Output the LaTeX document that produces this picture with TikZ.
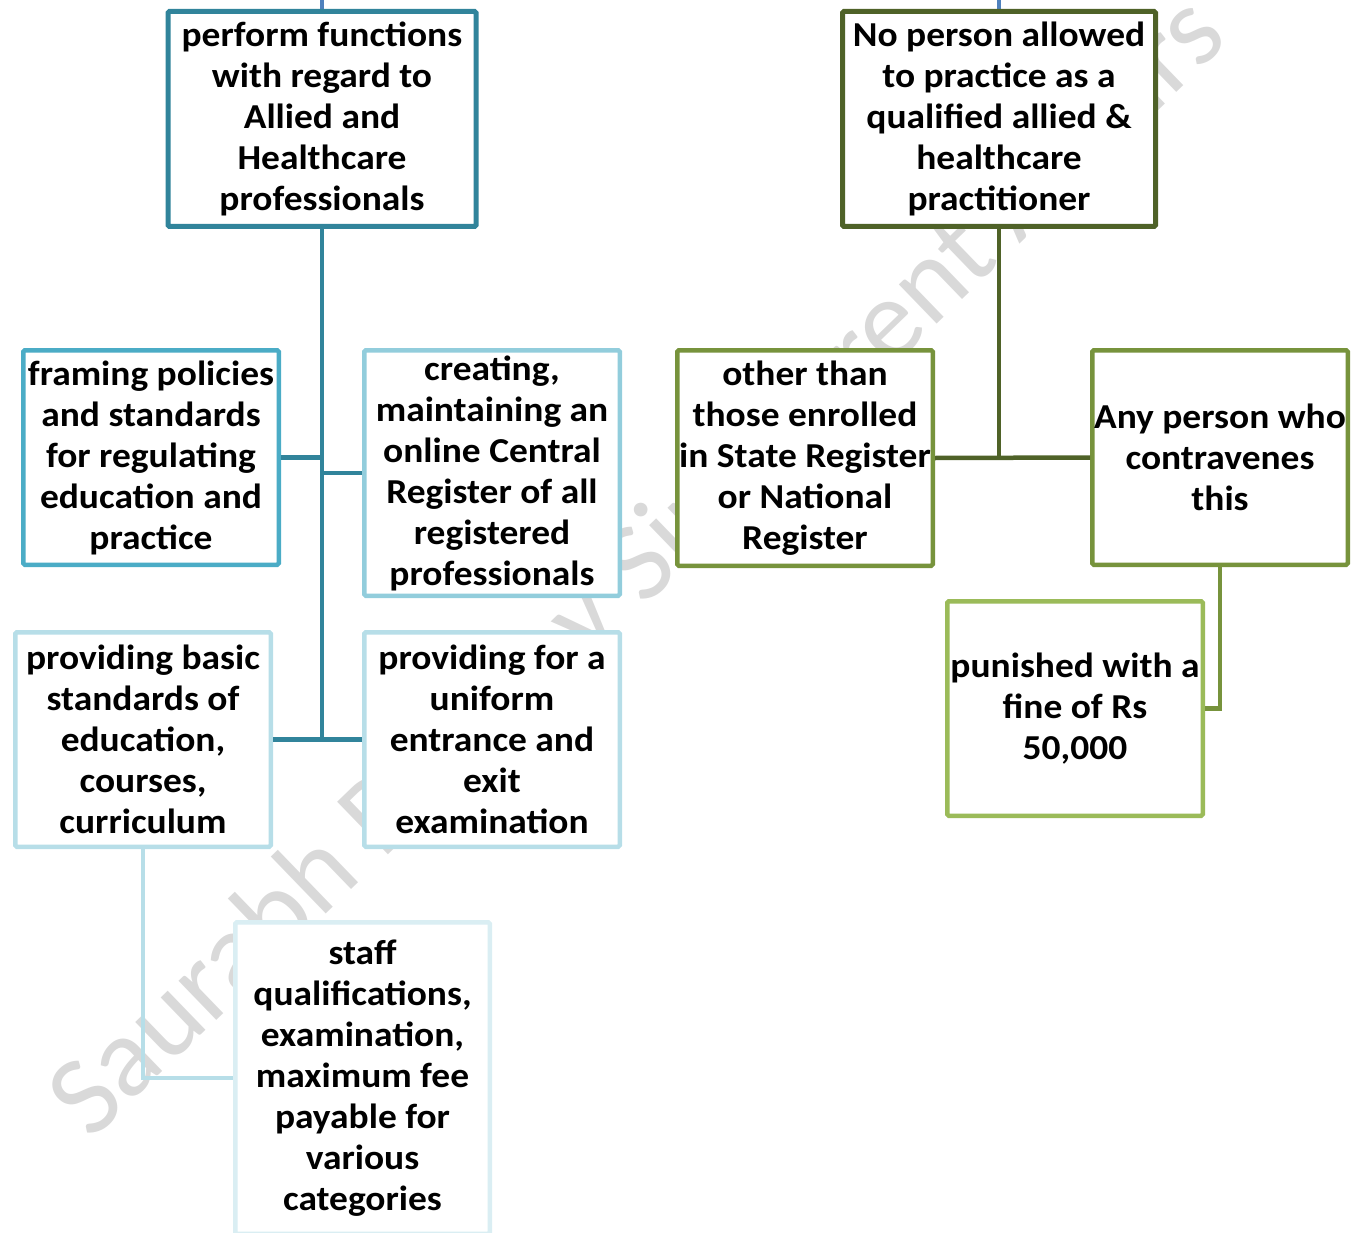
\documentclass[tikz,border=0pt]{standalone}
\usepackage{fontspec}
\setmainfont{Carlito}
\newfontfamily\boxfont{Carlito}[FakeStretch=1.07]
\definecolor{tealdark}{HTML}{31849B}
\definecolor{tealmid}{HTML}{4BACC6}
\definecolor{teallight}{HTML}{92CDDC}
\definecolor{teallighter}{HTML}{B7DEE8}
\definecolor{teallightest}{HTML}{DAEEF3}
\definecolor{olivedark}{HTML}{4F6228}
\definecolor{olivemid}{HTML}{77933C}
\definecolor{olivelight}{HTML}{9BBB59}
\definecolor{stubblue}{HTML}{4F81BD}
\definecolor{wmgray}{HTML}{D9D9D9}
\begin{document}
\begin{tikzpicture}[x=1pt,y=-1pt,
  box/.style={draw, fill=white, line width=4.5pt, rounded corners=1.5pt,
    minimum width=255.5pt, minimum height=214.5pt, inner sep=0pt,
    align=center, text=black,
    font=\boxfont\bfseries\fontsize{35}{41}\selectfont},
  wide/.style={minimum width=308pt, minimum height=215pt, line width=5pt},
  conn/.style={line width=4.5pt},
  stub/.style={line width=4pt, draw=stubblue}]
\useasboundingbox (0,0) rectangle (1362,1233);
% watermark
\node[text=wmgray, rotate=44, font=\fontsize{114}{114}\selectfont, inner sep=0pt] (wm) at (640,569) {Saurabh Pandey Sir Current Affairs};
% top stubs
\coordinate (top1) at (322,0);
\coordinate (top2) at (999,0);
\draw[stub] (top1) -- (322,20);
\draw[stub] (top2) -- (999,20);
% boxes left
\node[box, wide, draw=tealdark] (b1) at (322,119) {perform functions\\with regard to\\Allied and\\Healthcare\\professionals};
\node[box, draw=tealmid] (b2) at (151,457.5) {framing policies\\and standards\\for regulating\\education and\\practice};
\node[box, draw=teallight, minimum height=245.5pt] (b3) at (492,473) {creating,\\maintaining an\\online Central\\Register of all\\registered\\professionals};
\node[box, draw=teallighter] (b4) at (143,739.5) {providing basic\\standards of\\education,\\courses,\\curriculum};
\node[box, draw=teallighter] (b5) at (492,739.5) {providing for a\\uniform\\entrance and\\exit\\examination};
% boxes right
\node[box, wide, draw=olivedark, minimum width=313pt] (b7) at (999,119) {No person allowed\\to practice as a\\qualified allied \&\\healthcare\\practitioner};
\node[box, draw=olivemid, minimum height=215.5pt] (b8) at (805,458) {other than\\those enrolled\\in State Register\\or National\\Register};
\node[box, draw=olivemid] (b9) at (1220,457.5) {Any person who\\contravenes\\this};
\node[box, draw=olivelight] (b10) at (1075,708.5) {punished with a\\fine of Rs\\50,000};
% connectors left
\draw[conn, draw=tealdark] (b1.south) -- (b1.south |- b4.east);
\draw[conn, draw=tealdark] (b2.east) -- (b2.east -| b1.south);
\draw[conn, draw=tealdark] (b3.west) -- (b3.west -| b1.south);
\draw[conn, draw=tealdark] (b4.east) -- (b5.west);
% staff box and its connector
\node[box, draw=teallightest, minimum width=254.5pt, minimum height=311.5pt] (b6) at (362.5,1078) {staff\\qualifications,\\examination,\\maximum fee\\payable for\\various\\categories};
\draw[conn, draw=teallighter] (b4.south) |- (b6.west);
% connectors right
\draw[conn, draw=olivedark] (b7.south) -- (b7.south |- b8.east);
\draw[conn, draw=olivedark] (b8.east) -- (b9.west);
\draw[conn, draw=olivemid] (b9.south) |- (b10.east);
\end{tikzpicture}
\end{document}
